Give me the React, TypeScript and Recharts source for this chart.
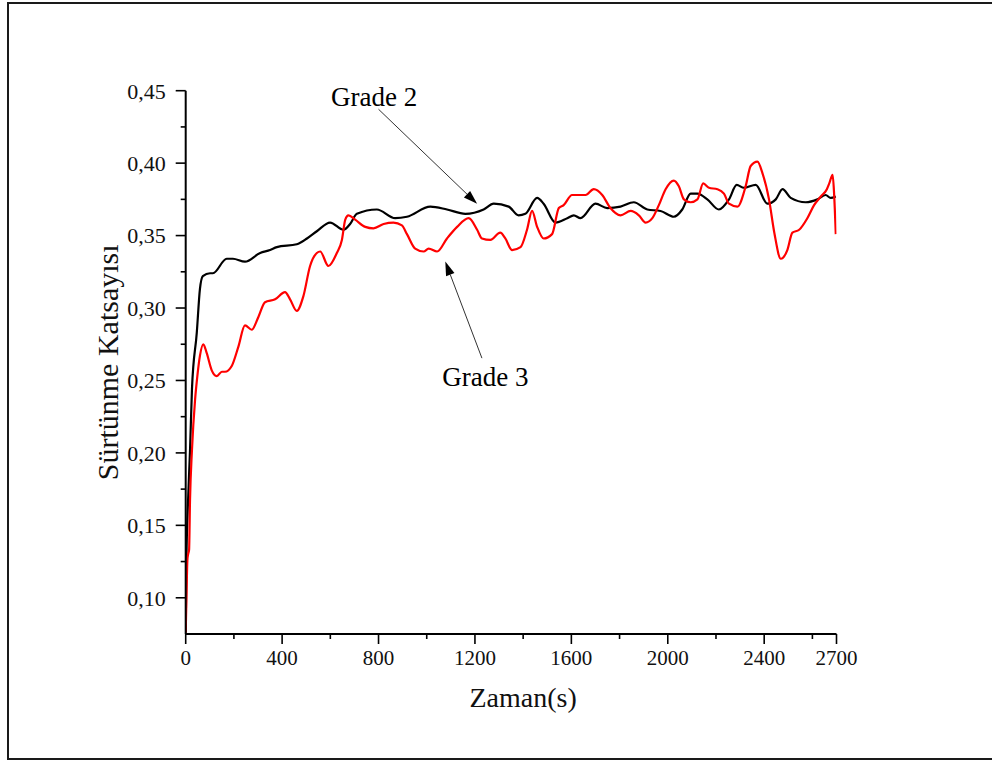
import React from 'react'
import { LineChart, Line, XAxis, YAxis, ReferenceLine, ReferenceDot } from 'recharts'

// Grade 2 friction coefficient over time
const grade2Time = [0, 3, 10, 18, 26, 46, 59, 71, 101, 113, 170, 196, 246, 309, 350, 378, 461, 503, 544, 599, 655, 682, 710, 793, 869, 918, 1015, 1084, 1160, 1236, 1278, 1340, 1381, 1409, 1458, 1485, 1534, 1583, 1610, 1638, 1700, 1749, 1804, 1859, 1915, 1970, 2025, 2060, 2095, 2123, 2164, 2212, 2254, 2286, 2316, 2365, 2413, 2448, 2476, 2510, 2572, 2621, 2655, 2676, 2697]
const grade2Cof = [0.076, 0.126, 0.168, 0.202, 0.244, 0.283, 0.313, 0.322, 0.324, 0.324, 0.334, 0.334, 0.332, 0.338, 0.340, 0.342, 0.344, 0.348, 0.353, 0.359, 0.354, 0.358, 0.365, 0.368, 0.362, 0.363, 0.370, 0.368, 0.365, 0.368, 0.372, 0.370, 0.364, 0.365, 0.376, 0.372, 0.359, 0.362, 0.364, 0.362, 0.372, 0.369, 0.370, 0.373, 0.368, 0.367, 0.363, 0.368, 0.379, 0.379, 0.375, 0.368, 0.375, 0.385, 0.383, 0.385, 0.372, 0.375, 0.382, 0.376, 0.373, 0.375, 0.378, 0.376, 0.377]

// Grade 3 friction coefficient over time
const grade3Time = [0, 3, 7, 10, 14, 18, 26, 39, 47, 59, 73, 87, 108, 129, 150, 163, 191, 218, 246, 274, 302, 329, 371, 412, 433, 461, 488, 516, 544, 558, 592, 627, 648, 662, 675, 703, 745, 779, 821, 862, 897, 918, 952, 987, 1008, 1043, 1084, 1126, 1174, 1209, 1229, 1264, 1305, 1326, 1354, 1389, 1416, 1437, 1458, 1485, 1520, 1548, 1568, 1603, 1659, 1693, 1728, 1762, 1804, 1846, 1880, 1908, 1936, 1963, 1991, 2025, 2046, 2067, 2095, 2123, 2147, 2171, 2206, 2233, 2254, 2289, 2323, 2344, 2372, 2393, 2420, 2442, 2469, 2496, 2517, 2545, 2579, 2607, 2635, 2660, 2670, 2684, 2690, 2697]
const grade3Cof = [0.076, 0.099, 0.126, 0.130, 0.133, 0.168, 0.202, 0.237, 0.251, 0.267, 0.275, 0.269, 0.257, 0.253, 0.256, 0.256, 0.260, 0.273, 0.288, 0.285, 0.294, 0.304, 0.306, 0.311, 0.306, 0.298, 0.308, 0.329, 0.338, 0.339, 0.329, 0.338, 0.347, 0.361, 0.364, 0.361, 0.356, 0.355, 0.358, 0.359, 0.357, 0.351, 0.341, 0.339, 0.341, 0.339, 0.348, 0.356, 0.362, 0.354, 0.348, 0.347, 0.352, 0.348, 0.340, 0.342, 0.354, 0.367, 0.356, 0.348, 0.351, 0.369, 0.371, 0.378, 0.378, 0.382, 0.378, 0.369, 0.364, 0.367, 0.364, 0.359, 0.362, 0.371, 0.382, 0.388, 0.384, 0.375, 0.373, 0.375, 0.386, 0.383, 0.382, 0.379, 0.372, 0.370, 0.384, 0.398, 0.401, 0.393, 0.375, 0.352, 0.334, 0.340, 0.352, 0.354, 0.362, 0.371, 0.377, 0.382, 0.386, 0.392, 0.379, 0.351]

const xMajor = [0, 400, 800, 1200, 1600, 2000, 2400, 2700]
const xMinor = [200, 600, 1000, 1400, 1800, 2200, 2600]
const yMajor = [0.1, 0.15, 0.2, 0.25, 0.3, 0.35, 0.4, 0.45]
const yMinor = [0.125, 0.175, 0.225, 0.275, 0.325, 0.375, 0.425]

const grade2 = grade2Time.map((t, i) => ({ t, v: grade2Cof[i] }))
const grade3 = grade3Time.map((t, i) => ({ t, v: grade3Cof[i] }))

const serif = '"Liberation Serif", "Times New Roman", serif'

const XTick = (props: any) => {
  const { x, y, payload } = props
  const major = xMajor.includes(payload.value)
  return (
    <g>
      <line x1={x} y1={y} x2={x} y2={y + (major ? 10 : 5)} stroke="#000" strokeWidth={1.6} />
      {major && (
        <text x={x} y={y + 16} dy="0.71em" textAnchor="middle" fontFamily={serif} fontSize={21} fill="#111">
          {payload.value}
        </text>
      )}
    </g>
  )
}

const YTick = (props: any) => {
  const { x, y, payload } = props
  const major = Math.round(payload.value * 1000) % 50 === 0
  return (
    <g>
      <line x1={x} y1={y} x2={x - (major ? 10 : 5)} y2={y} stroke="#000" strokeWidth={1.6} />
      {major && (
        <text x={x - 20} y={y} dy="0.355em" textAnchor="end" fontFamily={serif} fontSize={22} fill="#111">
          {payload.value.toFixed(2).replace('.', ',')}
        </text>
      )}
    </g>
  )
}

// thin leader line with a filled arrowhead at the second point
const Arrow = (props: any) => {
  const { x1, y1, x2, y2 } = props
  const ang = Math.atan2(y2 - y1, x2 - x1)
  const len = 14
  const half = 4.5
  const bx = x2 - len * Math.cos(ang)
  const by = y2 - len * Math.sin(ang)
  const px = -Math.sin(ang) * half
  const py = Math.cos(ang) * half
  return (
    <g>
      <line x1={x1} y1={y1} x2={bx} y2={by} stroke="#333" strokeWidth={1} />
      <polygon points={`${x2},${y2} ${bx + px},${by + py} ${bx - px},${by - py}`} fill="#000" />
    </g>
  )
}

const tag = (text: string) => (p: any) => (
  <text x={p.cx} y={p.cy} dy="0.35em" textAnchor="middle" fontFamily={serif} fontSize={27} fill="#000">
    {text}
  </text>
)

export default function App() {
  return (
    <div style={{ position: 'absolute', left: 0, top: 0, width: 992, height: 762, overflow: 'hidden', background: '#fff' }}>
      <div style={{ position: 'absolute', left: 7, top: 2, width: 1010, height: 754, border: '2px solid #1a1a1a' }} />
      <div style={{ position: 'absolute', left: 0, top: 0 }}>
        <LineChart width={992} height={762} margin={{ top: 90.7, right: 155.5, bottom: 2.4, left: 28.3 }}>
          <XAxis
            dataKey="t"
            type="number"
            domain={[0, 2700]}
            ticks={[...xMajor, ...xMinor].sort((a, b) => a - b)}
            interval={0}
            allowDataOverflow
            height={125.6}
            tickSize={0}
            tickMargin={0}
            tickLine={false}
            tick={<XTick />}
            axisLine={{ stroke: '#000', strokeWidth: 2 }}
            label={{ value: 'Zaman(s)', position: 'center', dx: 12, fontFamily: serif, fontSize: 28, fill: '#111' }}
          />
          <YAxis
            type="number"
            domain={[0.075, 0.45]}
            ticks={[...yMajor, ...yMinor].sort((a, b) => a - b)}
            interval={0}
            allowDataOverflow
            width={157.4}
            tickSize={0}
            tickMargin={0}
            tickLine={false}
            tick={<YTick />}
            axisLine={{ stroke: '#000', strokeWidth: 2 }}
            label={{ value: 'Sürtünme Katsayısı', angle: -90, position: 'center', fontFamily: serif, fontSize: 30, fill: '#111' }}
          />
          <Line data={grade2} dataKey="v" type="monotone" stroke="#000" strokeWidth={2.2} dot={false} isAnimationActive={false} />
          <Line data={grade3} dataKey="v" type="monotone" stroke="#ff0000" strokeWidth={2.2} dot={false} isAnimationActive={false} />
          <ReferenceLine segment={[{ x: 800, y: 0.4372 }, { x: 1209, y: 0.3719 }]} shape={<Arrow />} />
          <ReferenceLine segment={[{ x: 1229, y: 0.2654 }, { x: 1077, y: 0.3321 }]} shape={<Arrow />} />
          <ReferenceDot x={782} y={0.4463} r={0} shape={tag('Grade 2')} />
          <ReferenceDot x={1243} y={0.2525} r={0} shape={tag('Grade 3')} />
        </LineChart>
      </div>
    </div>
  )
}
